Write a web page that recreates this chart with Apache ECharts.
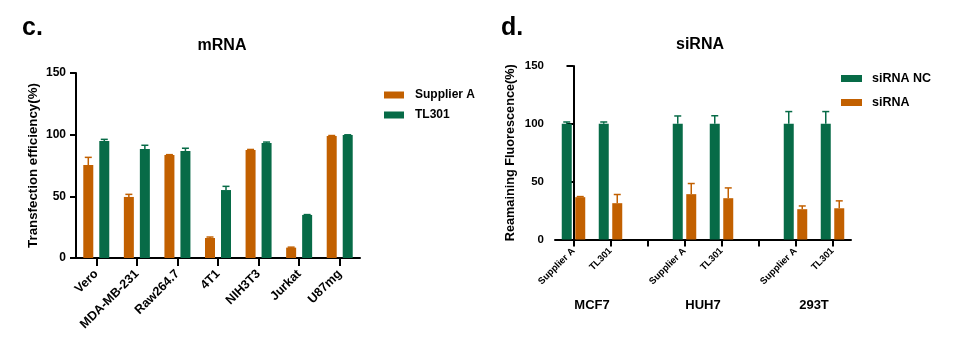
<!DOCTYPE html>
<html>
<head>
<meta charset="utf-8">
<script src="https://cdn.jsdelivr.net/npm/echarts@6/dist/echarts.min.js"></script>
<style>
html,body{margin:0;padding:0;background:#fff;}
#chart{width:965px;height:352px;}
</style>
</head>
<body>
<div id="chart"></div>
<script>
// ---- Data: panel c (mRNA) ----
const mrnaCategories = ['Vero', 'MDA-MB-231', 'Raw264.7', '4T1', 'NIH3T3', 'Jurkat', 'U87mg'];
const mrnaSupplierA = [75.4, 49.5, 83.5, 16.2, 87.6, 8.4, 98.9];
const mrnaSupplierAErr = [6.2, 2.1, 0.3, 0.8, 0.4, 0.4, 0.4];
const mrnaTL301 = [94.9, 88.4, 86.8, 55.1, 93.2, 34.9, 99.7];
const mrnaTL301Err = [1.3, 3.0, 2.2, 3.0, 0.8, 0.3, 0.2];
const mrnaYTicks = [0, 50, 100, 150];

// ---- Data: panel d (siRNA) ----
const sirnaCategories = ['Supplier A', 'TL301', '', 'Supplier A', 'TL301', '', 'Supplier A', 'TL301'];
const sirnaNC = [100, 100, null, 100, 100, null, 100, 100];
const sirnaNCErr = [1.6, 1.6, null, 6.8, 7.0, null, 10.6, 10.6];
const sirnaVals = [36.6, 31.4, null, 39.2, 35.7, null, 26.2, 27.0];
const sirnaErr = [0.5, 7.5, null, 9.2, 8.9, null, 2.8, 6.4];
const sirnaGroups = ['MCF7', 'HUH7', '293T'];
const sirnaGroupCenters = [0.5, 3.5, 6.5];
const sirnaYTicks = [0, 50, 100, 150];

const ORANGE = '#c26000';
const GREEN = '#076b47';
const FONT = 'Liberation Sans, Arial, sans-serif';

function errData(vals, errs) {
  const out = [];
  vals.forEach((v, i) => { if (v != null) out.push([i, v, v + errs[i]]); });
  return out;
}

function errSeries(name, xi, yi, vals, errs, color, offset) {
  return {
    type: 'custom', name: name, xAxisIndex: xi, yAxisIndex: yi, z: 1,
    silent: true,
    data: errData(vals, errs),
    renderItem: function (params, api) {
      const base = api.coord([api.value(0), api.value(1)]);
      const top = api.coord([api.value(0), api.value(2)]);
      const x = base[0] + offset;
      const cap = 3.5;
      return {
        type: 'group',
        children: [
          { type: 'line', shape: { x1: x, y1: base[1], x2: x, y2: top[1] }, style: { stroke: color, lineWidth: 1.5 } },
          { type: 'line', shape: { x1: x - cap, y1: top[1], x2: x + cap, y2: top[1] }, style: { stroke: color, lineWidth: 1.5 } }
        ]
      };
    }
  };
}

const axisLineStyle = { color: '#000', width: 2 };
const labelStyle = { color: '#000', fontFamily: FONT, fontWeight: 'bold' };

const chart = echarts.init(document.getElementById('chart'), null, { renderer: 'canvas' });

const option = {
  animation: false,
  backgroundColor: '#fff',
  textStyle: { fontFamily: FONT },
  title: [
    { text: 'c.', left: 17, top: 11, textStyle: { fontSize: 25, fontWeight: 'bold', color: '#000', fontFamily: FONT } },
    { text: 'mRNA', left: 217, top: 33, textAlign: 'center', textStyle: { fontSize: 16, fontWeight: 'bold', color: '#000', fontFamily: FONT } },
    { text: 'd.', left: 496, top: 11, textStyle: { fontSize: 25, fontWeight: 'bold', color: '#000', fontFamily: FONT } },
    { text: 'siRNA', left: 695, top: 32, textAlign: 'center', textStyle: { fontSize: 16, fontWeight: 'bold', color: '#000', fontFamily: FONT } }
  ],
  legend: [
    {
      orient: 'vertical', left: 379, top: 84, itemWidth: 20, itemHeight: 7, itemGap: 8,
      icon: 'rect',
      data: ['Supplier A', 'TL301'],
      textStyle: { fontSize: 12, fontWeight: 'bold', color: '#000', fontFamily: FONT, padding: [0, 0, 0, 6] }
    },
    {
      orient: 'vertical', left: 836, top: 67, itemWidth: 21, itemHeight: 7, itemGap: 11,
      icon: 'rect',
      data: ['siRNA NC', 'siRNA'],
      textStyle: { fontSize: 12.5, fontWeight: 'bold', color: '#000', fontFamily: FONT, padding: [0, 0, 0, 5] }
    }
  ],
  grid: [
    { left: 76, top: 73, width: 284, height: 185, containLabel: false },
    { left: 555, top: 66, width: 296, height: 173.5, containLabel: false }
  ],
  xAxis: [
    {
      type: 'category', gridIndex: 0, data: mrnaCategories,
      axisLine: { lineStyle: axisLineStyle },
      axisTick: { show: true, length: 8, lineStyle: { color: '#000', width: 2 }, alignWithLabel: true },
      axisLabel: Object.assign({ rotate: 45, fontSize: 12.5, margin: 14, interval: 0 }, labelStyle)
    },
    {
      type: 'category', gridIndex: 1, data: sirnaCategories,
      axisLine: { lineStyle: axisLineStyle },
      axisTick: { show: true, length: 7, lineStyle: { color: '#000', width: 2 }, alignWithLabel: true, interval: 0 },
      axisLabel: Object.assign({ rotate: 45, fontSize: 9.5, margin: 10, interval: 0 }, labelStyle)
    },
    {
      type: 'value', gridIndex: 1, min: -0.5, max: 7.5, position: 'bottom',
      axisLine: { show: false }, axisTick: { show: false }, splitLine: { show: false },
      axisLabel: Object.assign({
        fontSize: 13, margin: 59,
        customValues: sirnaGroupCenters,
        formatter: function (v) {
          const i = sirnaGroupCenters.findIndex(c => Math.abs(c - v) < 1e-6);
          return i >= 0 ? sirnaGroups[i] : '';
        }
      }, labelStyle)
    }
  ],
  yAxis: [
    {
      type: 'value', gridIndex: 0, min: mrnaYTicks[0], max: mrnaYTicks[mrnaYTicks.length - 1], interval: 50,
      name: 'Transfection efficiency(%)', nameLocation: 'middle', nameGap: 36,
      nameTextStyle: { fontSize: 13.3, fontWeight: 'bold', color: '#000', fontFamily: FONT },
      axisLine: { show: true, lineStyle: axisLineStyle },
      axisTick: { show: true, length: 6, lineStyle: { color: '#000', width: 2 } },
      axisLabel: Object.assign({ fontSize: 12, margin: 10 }, labelStyle),
      splitLine: { show: false }
    },
    {
      type: 'value', gridIndex: 1, min: sirnaYTicks[0], max: sirnaYTicks[sirnaYTicks.length - 1], interval: 50,
      name: 'Reamaining Fluorescence(%)', nameLocation: 'middle', nameGap: 38,
      nameTextStyle: { fontSize: 12.7, fontWeight: 'bold', color: '#000', fontFamily: FONT },
      axisLine: { show: true, lineStyle: axisLineStyle },
      axisTick: { show: true, length: 7, lineStyle: { color: '#000', width: 2 } },
      axisLabel: Object.assign({ fontSize: 11.5, margin: 11 }, labelStyle),
      splitLine: { show: false }
    }
  ],
  series: [
    { name: 'Supplier A', type: 'bar', xAxisIndex: 0, yAxisIndex: 0, data: mrnaSupplierA, barWidth: 10, barGap: '60%', itemStyle: { color: ORANGE }, z: 2 },
    { name: 'TL301', type: 'bar', xAxisIndex: 0, yAxisIndex: 0, data: mrnaTL301, barWidth: 10, barGap: '60%', itemStyle: { color: GREEN }, z: 2 },
    errSeries('Supplier A err', 0, 0, mrnaSupplierA, mrnaSupplierAErr, ORANGE, -8),
    errSeries('TL301 err', 0, 0, mrnaTL301, mrnaTL301Err, GREEN, 8),
    { name: 'siRNA NC', type: 'bar', xAxisIndex: 1, yAxisIndex: 1, data: sirnaNC, barWidth: 10, barGap: '35%', itemStyle: { color: GREEN }, z: 2 },
    { name: 'siRNA', type: 'bar', xAxisIndex: 1, yAxisIndex: 1, data: sirnaVals, barWidth: 10, barGap: '35%', itemStyle: { color: ORANGE }, z: 2 },
    errSeries('siRNA NC err', 1, 1, sirnaNC, sirnaNCErr, GREEN, -6.75),
    errSeries('siRNA err', 1, 1, sirnaVals, sirnaErr, ORANGE, 6.75)
  ]
};

chart.setOption(option);
</script>
</body>
</html>
